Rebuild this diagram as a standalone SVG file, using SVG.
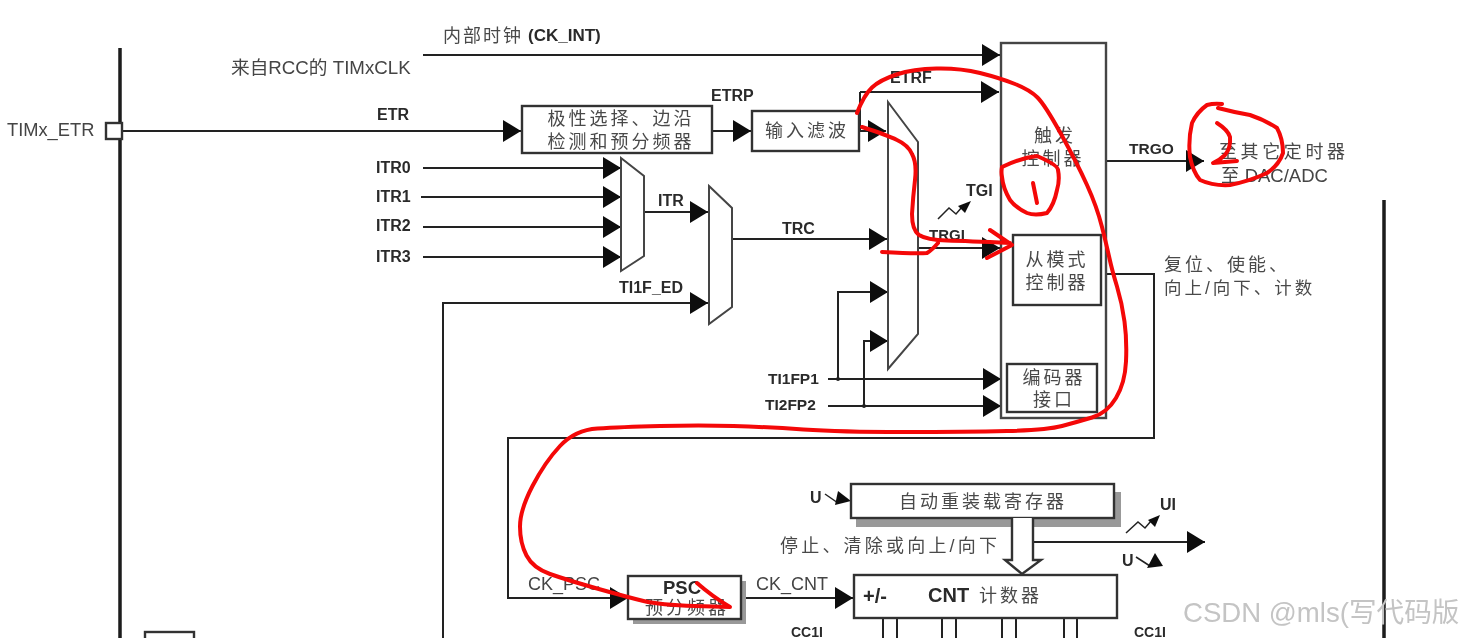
<svg xmlns="http://www.w3.org/2000/svg" width="1462" height="638" viewBox="0 0 1462 638">
<defs>
<marker id="ah" viewBox="0 0 18 22" refX="18" refY="11" markerWidth="18" markerHeight="22" markerUnits="userSpaceOnUse" orient="auto"><path d="M0 0L18 11L0 22Z" fill="#0c0c0c"/></marker>
<filter id="soft" x="0" y="0" width="1" height="1" filterUnits="objectBoundingBox"><feGaussianBlur stdDeviation="0.55"/></filter>
</defs>
<style>
text{font-family:"Liberation Sans","Noto Sans CJK SC",sans-serif;fill:#3c3c3c}
.b{font-weight:700;font-size:16px;fill:#2a2a2a}
.c{font-size:18px;letter-spacing:3px;fill:#4a4a4a}
.n{font-size:18.3px;fill:#444}
.m{text-anchor:middle}
.l{fill:none;stroke:#222;stroke-width:2}
.t{fill:none;stroke:#1a1a1a;stroke-width:3.5}
.a{marker-end:url(#ah)}
.box{fill:#fff;stroke:#333;stroke-width:2.4}
.mux{fill:#fff;stroke:#444;stroke-width:2}
.sh{fill:#999}
.thin{fill:none;stroke:#222;stroke-width:1.5}
.hd{fill:#111}
.r{fill:none;stroke:#f40808;stroke-width:4;stroke-linecap:round;stroke-linejoin:round}
</style>
<rect width="1462" height="638" fill="#fff"/>
<g id="diagram" filter="url(#soft)">
<rect width="1462" height="638" fill="#fff"/>
<g id="bus">
<path class="t" d="M120 48V638"/>
<path class="t" d="M1384 200V638"/>
</g>
<g id="connectors">
<path class="l a" d="M423 55H1000"/>
<path class="l a" d="M120 131H521"/>
<path class="l a" d="M713 131H751"/>
<path class="l a" d="M860 92H999"/>
<path class="l" d="M860 92V131"/>
<path class="l a" d="M860 131H886"/>
<path class="l a" d="M423 168H621"/>
<path class="l a" d="M421 197H621"/>
<path class="l a" d="M423 227H621"/>
<path class="l a" d="M423 257H621"/>
<path class="l a" d="M644 212H708"/>
<path class="l a" d="M443 638V303H708"/>
<path class="l a" d="M732 239H887"/>
<path class="l a" d="M918 248H1000"/>
<path class="l a" d="M838 379V292H888"/>
<path class="l a" d="M864 406V341H888"/>
<path class="l a" d="M828 379H1001"/>
<path class="l a" d="M828 406H1001"/>
<path class="l a" d="M1106 161H1204"/>
<path class="l a" d="M1102 274H1154V438H508V598H628"/>
<path class="l a" d="M741 598H853"/>
<path class="l a" d="M1033 542H1205"/>
<circle cx="838" cy="379" r="2" fill="#222"/>
<circle cx="864" cy="406" r="2" fill="#222"/>
<path class="thin" d="M938 219L949 208L956 214L962 207"/>
<path class="hd" d="M971 201L958 206L965 213Z"/>
<path class="thin" d="M1126 533L1138 522L1145 528L1151 521"/>
<path class="hd" d="M1160 515L1148 520L1155 527Z"/>
<path class="thin" d="M825 494L838 503"/>
<path class="hd" d="M851 501L838 491L835 505Z"/>
<path class="thin" d="M1136 557L1150 566"/>
<path class="hd" d="M1163 566L1155 553L1147 568Z"/>
<path class="l" d="M883 619V638M897 619V638M942 619V638M956 619V638M1002 619V638M1016 619V638M1064 619V638M1077 619V638"/>
</g>
<g id="node-etr-pin"><rect class="box" x="106" y="123" width="16" height="16"/></g>
<g id="node-etr-prescaler"><rect class="box" x="522" y="106" width="190" height="47"/>
<text class="c m" x="621" y="125">极性选择、边沿</text><text class="c m" x="621" y="148">检测和预分频器</text></g>
<g id="node-filter"><rect class="box" x="752" y="111" width="107" height="40"/><text class="c m" x="807" y="137">输入滤波</text></g>
<g id="node-mux-itr"><path class="mux" d="M621 158L644 176V256L621 271Z"/></g>
<g id="node-mux-trc"><path class="mux" d="M709 186L732 208V307L709 324Z"/></g>
<g id="node-mux-main"><path class="mux" d="M888 102L918 142V334L888 369Z"/></g>
<g id="node-trigger"><rect x="1001" y="43" width="105" height="375" fill="#fff" stroke="#444" stroke-width="2.4"/>
<text class="c m" x="1055" y="142">触发</text><text class="c m" x="1053" y="165">控制器</text></g>
<g id="node-slave"><rect x="1013" y="235" width="88" height="70" fill="#fff" stroke="#333" stroke-width="2.4"/>
<text class="c m" x="1057" y="266">从模式</text><text class="c m" x="1057" y="289">控制器</text></g>
<g id="node-encoder"><rect x="1007" y="364" width="90" height="48" fill="#fff" stroke="#333" stroke-width="2.4"/>
<text class="c m" x="1054" y="384">编码器</text><text class="c m" x="1054" y="406">接口</text></g>
<g id="node-arr"><rect class="sh" x="856" y="492" width="265" height="35"/><rect class="box" x="851" y="484" width="263" height="34"/>
<text class="c m" x="983" y="508">自动重装载寄存器</text></g>
<g id="double-arrow"><path fill="#fff" stroke="#333" stroke-width="2.4" d="M1012 518V560H1005L1022 574L1041 560H1033V518"/></g>
<g id="node-psc"><rect class="sh" x="633" y="581" width="113" height="43"/><rect class="box" x="628" y="576" width="113" height="43"/>
<text class="b m" x="682" y="594" style="font-size:18.5px">PSC</text><text class="c m" x="687" y="614">预分频器</text></g>
<g id="node-cnt"><rect class="box" x="854" y="575" width="263" height="43"/>
<text class="b" x="863" y="603" style="font-size:20px">+/-</text><text class="b" x="928" y="602" style="font-size:20px">CNT</text><text class="c" x="979" y="602">计数器</text></g>
<g id="node-sheet-corner"><rect class="box" x="145" y="632" width="49" height="12"/></g>
<g id="labels">
<text class="c" x="443" y="42" style="letter-spacing:2px">内部时钟</text><text class="b" x="528" y="41" style="font-size:17px">(CK_INT)</text>
<text class="n" x="231" y="74" style="font-size:18.7px">来自RCC的 TIMxCLK</text>
<text class="n" x="7" y="136">TIMx_ETR</text>
<text class="b" x="377" y="120">ETR</text><text class="b" x="711" y="101">ETRP</text><text class="b" x="890" y="83">ETRF</text>
<text class="b" x="376" y="173">ITR0</text><text class="b" x="376" y="202">ITR1</text><text class="b" x="376" y="231">ITR2</text><text class="b" x="376" y="262">ITR3</text>
<text class="b" x="658" y="206">ITR</text><text class="b" x="619" y="293">TI1F_ED</text>
<text class="b" x="782" y="234">TRC</text><text class="b" x="966" y="196">TGI</text><text class="b" x="929" y="240" style="font-size:15px">TRGI</text>
<text class="b" x="768" y="384" style="font-size:15.5px">TI1FP1</text><text class="b" x="765" y="410" style="font-size:15.5px">TI2FP2</text>
<text class="b" x="1129" y="154" style="font-size:15.5px">TRGO</text>
<text class="c" x="1219" y="158" style="letter-spacing:3.6px">至其它定时器</text><text class="n" x="1221" y="182" style="font-size:18.5px">至 DAC/ADC</text>
<text class="c" x="1164" y="271">复位、使能、</text><text class="c" x="1164" y="294" style="letter-spacing:3px;font-size:17.5px">向上/向下、计数</text>
<text class="b" x="810" y="503">U</text><text class="b" x="1160" y="510">UI</text><text class="b" x="1122" y="566">U</text>
<text class="c" x="780" y="552" style="letter-spacing:3.2px">停止、清除或向上/向下</text>
<text class="n" x="528" y="590" style="font-size:18px">CK_PSC</text><text class="n" x="756" y="590" style="font-size:18px">CK_CNT</text>
<text class="b" x="791" y="637" style="font-size:14px">CC1I</text><text class="b" x="1134" y="637" style="font-size:14px">CC1I</text>
</g>
<g id="watermark"><text x="1183" y="622" style="font-size:27.6px;fill:#c4c4c4">CSDN @mls(写代码版</text></g>
</g>
<g id="annotations">
<path class="r" d="M857 113Q864 95 872 87.5Q880 80 896.5 74.5Q913 69 936.5 68.5Q960 68 980 73Q1000 78 1015 84Q1030 90 1037.5 97.5Q1045 105 1061 134Q1077 163 1087 185Q1097 207 1102 227Q1107 247 1109.5 258.5Q1112 270 1117 286.5Q1122 303 1124.5 321.5Q1127 340 1126 361.5Q1125 383 1116 398Q1107 413 1092 417.5Q1077 422 1062 426Q1047 430 1007 431Q967 432 903.5 432Q840 432 803.5 429.5Q767 427 733.5 426Q700 425 660 426Q620 427 597.5 428.5Q575 430 560 446Q545 462 532.5 486Q520 510 520 526.5Q520 543 526.5 555.5Q533 568 550 574Q567 580 597 588.5Q627 597 643.5 601Q660 605 695 606L730 607Q713 597 697 583"/>
<path class="r" d="M862 127Q887 135 897 140Q908 145 912 154Q917 163 915 180Q913 197 912 214Q912 230 919 235Q927 240 947 240.5Q967 241 1010 243M990 230L1012 245L987 258"/>
<path class="r" d="M882 252Q917 254 927 253Q932 250 938 243"/>
<path class="r" d="M1002 167Q1020 158 1037 156Q1058 165 1058 170Q1060 180 1057 190Q1054 205 1047 213Q1035 216 1027 213Q1016 208 1010 200Q1003 188 1002 177Q1001 172 1002 167"/>
<path class="r" d="M1033 183L1037 203"/>
<path class="r" d="M1222 104Q1214 103 1207 105Q1197 112 1192 123Q1188 140 1190 157Q1193 172 1200 180Q1213 186 1230 185Q1250 181 1267 173Q1279 165 1283 153Q1283 139 1277 128Q1265 120 1250 115Q1233 112 1218 108"/>
<path class="r" d="M1217 123Q1228 130 1230 137Q1231 148 1225 155Q1220 160 1213 163Q1225 162 1237 161"/>
</g>
</svg>
